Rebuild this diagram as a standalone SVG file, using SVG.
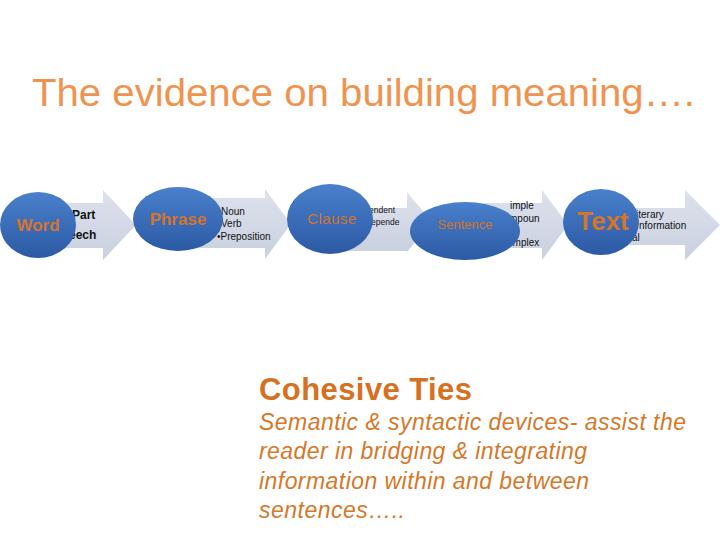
<svg xmlns="http://www.w3.org/2000/svg" width="720" height="540" viewBox="0 0 720 540">
<defs>
<linearGradient id="ag" x1="0" y1="0" x2="0" y2="1">
<stop offset="0" stop-color="#dde2ec"/>
<stop offset="0.5" stop-color="#d3d9e6"/>
<stop offset="1" stop-color="#c9d0de"/>
</linearGradient>
<linearGradient id="eg" x1="0" y1="0" x2="0" y2="1">
<stop offset="0" stop-color="#4a80cc"/>
<stop offset="1" stop-color="#2c5aa4"/>
</linearGradient>
</defs>
<style>
.arr{fill:url(#ag);}
.ell{fill:url(#eg);}
.lbl{font-family:"Liberation Sans",Arial,sans-serif;fill:#d5742b;text-anchor:middle;font-weight:bold;}
.sm{font-family:"Liberation Sans",Arial,sans-serif;fill:#111;font-size:10px;}
.title{font-family:"Liberation Sans",Arial,sans-serif;fill:#ef9450;font-size:39px;}
.head{font-family:"Liberation Sans",Arial,sans-serif;fill:#d5711f;font-size:31px;font-weight:bold;}
.body{font-family:"Liberation Sans",Arial,sans-serif;fill:#d5782a;font-size:23px;font-style:italic;}
</style>
<rect width="720" height="540" fill="#ffffff"/>
<text class="title" x="32" y="106" textLength="663" lengthAdjust="spacingAndGlyphs">The evidence on building meaning….</text>
<g id="connectors">
<path class="arr" d="M40,203 H103 V190 L136,225 L103,260 V248 H40 Z"/>
<path class="arr" d="M190,198 H265 V189 L291,224 L265,259 V248 H190 Z"/>
<path class="arr" d="M340,208 H407 V192 L432,222 L407,252 V251 H340 Z"/>
<path class="arr" d="M480,203 H542 V190 L568,225 L542,260 V248 H480 Z"/>
<path class="arr" d="M610,208 H685 V190 L720,225 L685,260 V245 H610 Z"/>
</g>
<g id="word">
<text class="sm" x="72" y="219" style="font-size:12px;font-weight:bold">Part</text>
<text class="sm" x="69" y="239" style="font-size:12px;font-weight:bold">eech</text>
<ellipse class="ell" cx="38" cy="225" rx="38" ry="33"/>
<text class="lbl" x="38" y="231" font-size="17">Word</text>
</g>
<g id="phrase">
<text class="sm" x="221" y="215">Noun</text>
<text class="sm" x="221" y="227">Verb</text>
<text class="sm" x="217" y="240">•Preposition</text>
<ellipse class="ell" cx="178" cy="219" rx="45" ry="32"/>
<text class="lbl" x="178" y="225" font-size="17">Phrase</text>
</g>
<g id="clause">
<text class="sm" x="369" y="213" style="font-size:8.5px">endent</text>
<text class="sm" x="371" y="225" style="font-size:8.5px">epende</text>
<ellipse class="ell" cx="330" cy="219" rx="43" ry="35"/>
<text class="lbl" x="332" y="224" font-size="15" style="font-weight:normal;letter-spacing:0.5px">Clause</text>
</g>
<g id="sentence">
<text class="sm" x="510" y="209">imple</text>
<text class="sm" x="509" y="222">mpoun</text>
<text class="sm" x="507" y="246">omplex</text>
<ellipse class="ell" cx="465" cy="231" rx="55" ry="29"/>
<text class="lbl" x="465" y="229" font-size="13" style="font-weight:normal">Sentence</text>
</g>
<g id="text">
<text class="sm" x="636" y="218">iterary</text>
<text class="sm" x="639" y="229">nformation</text>
<text class="sm" x="632" y="241">al</text>
<ellipse class="ell" cx="601" cy="222" rx="38" ry="33"/>
<text class="lbl" x="603" y="230" font-size="26">Text</text>
</g>
<text class="head" x="259" y="400" textLength="213">Cohesive Ties</text>
<text class="body" x="259" y="430" textLength="427">Semantic &amp; syntactic devices- assist the</text>
<text class="body" x="259" y="459" textLength="328">reader in bridging &amp; integrating</text>
<text class="body" x="259" y="489" textLength="330">information within and between</text>
<text class="body" x="259" y="518" textLength="146">sentences…..</text>
</svg>
